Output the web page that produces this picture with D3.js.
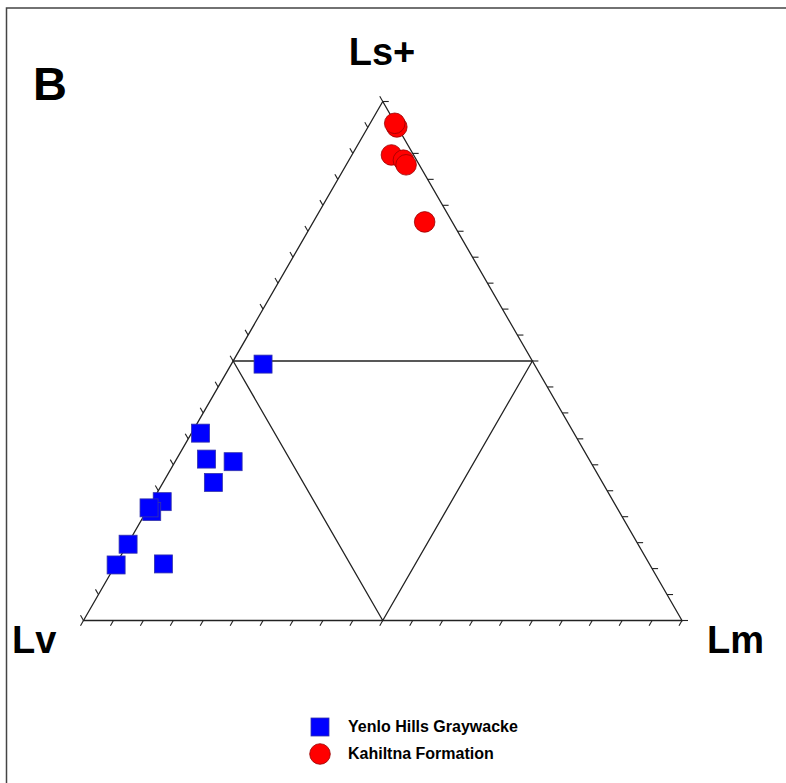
<!DOCTYPE html>
<html>
<head>
<meta charset="utf-8">
<script src="https://cdn.jsdelivr.net/npm/d3@7"></script>
<style>
  body { margin: 0; background: #fff; }
  svg text { font-family: Arial, "Liberation Sans", sans-serif; font-weight: bold; }
</style>
</head>
<body>
<div id="chart"></div>
<script>
// ternary data, percent: Ls+ (top), Lv (left), Lm (right)
var yenloLs = [49.4, 36.1, 31.1, 30.6, 26.6, 22.9, 21.0, 21.7, 14.7, 10.7, 10.9];
var yenloLv = [45.3, 62.4, 63.9, 59.7, 65.0, 75.4, 78.1, 78.2, 85.2, 89.2, 81.2];
var yenloLm = [5.3, 1.5, 5.0, 9.7, 8.4, 1.7, 0.9, 0.1, 0.1, 0.1, 7.9];

var kahilLs = [95.1, 95.8, 89.7, 88.7, 87.8, 76.8];
var kahilLv = [0.1, 0.1, 3.7, 2.2, 2.2, 4.6];
var kahilLm = [4.8, 4.1, 6.6, 9.1, 10.0, 18.6];

var apexLabels = ["Ls+", "Lv", "Lm"];
var seriesNames = ["Yenlo Hills Graywacke", "Kahiltna Formation"];
var tickValues = d3.range(0, 101, 5);

var width = 786, height = 783;

var svg = d3.select("#chart")
  .append("svg")
  .attr("width", width)
  .attr("height", height);

// outer frame (runs off the right and bottom edge)
svg.append("rect")
  .attr("x", 6.5).attr("y", 8)
  .attr("width", 800).attr("height", 800)
  .attr("fill", "none")
  .attr("stroke", "#444")
  .attr("stroke-width", 1.5);

// scales: Ls+ goes up, (Lm + Ls/2) goes right
var x = d3.scaleLinear().domain([0, 100]).range([83.5, 682]);
var y = d3.scaleLinear().domain([0, 100]).range([620.5, 101.5]);

function proj(ls, lm) {
  return [x(lm + ls / 2), y(ls)];
}

var top_ = proj(100, 0), left = proj(0, 0), right = proj(0, 100);

var g = svg.append("g");

// main triangle
g.append("path")
  .attr("d", d3.line()([top_, left, right, top_]) + "Z")
  .attr("fill", "none")
  .attr("stroke", "#222")
  .attr("stroke-width", 1.3);

// inner triangle through midpoints
var mids = [proj(50, 0), proj(50, 50), proj(0, 50)];
g.append("path")
  .attr("d", d3.line()(mids) + "Z")
  .attr("fill", "none")
  .attr("stroke", "#222")
  .attr("stroke-width", 1.3);

// ticks on each side
var tl = 6;
function ticks(pts, dx, dy) {
  g.append("g").selectAll("line")
    .data(pts)
    .enter()
    .append("line")
      .attr("x1", function(d) { return d[0]; })
      .attr("y1", function(d) { return d[1]; })
      .attr("x2", function(d) { return d[0] + dx * tl; })
      .attr("y2", function(d) { return d[1] + dy * tl; })
      .attr("stroke", "#222")
      .attr("stroke-width", 1.1);
}
// bottom (Lv - Lm)
ticks(tickValues.map(function(v) { return proj(0, v); }), -0.5, 0.866);
// right (Lm - Ls+)
ticks(tickValues.map(function(v) { return proj(v, 100 - v); }), 1, 0);
// left (Ls+ - Lv)
ticks(tickValues.map(function(v) { return proj(v, 0); }), -0.5, -0.866);

// Yenlo squares
var yenlo = yenloLs.map(function(d, i) {
  return { ls: d, lv: yenloLv[i], lm: yenloLm[i] };
});
var sq = 18;
g.append("g").selectAll("rect")
  .data(yenlo)
  .enter()
  .append("rect")
    .attr("x", function(d) { return proj(d.ls, d.lm)[0] - sq / 2; })
    .attr("y", function(d) { return proj(d.ls, d.lm)[1] - sq / 2; })
    .attr("width", sq)
    .attr("height", sq)
    .attr("fill", "#0000ff")
    .attr("stroke", "#3333aa")
    .attr("stroke-width", 0.8);

// Kahiltna circles
var kahil = kahilLs.map(function(d, i) {
  return { ls: d, lv: kahilLv[i], lm: kahilLm[i] };
});
g.append("g").selectAll("circle")
  .data(kahil)
  .enter()
  .append("circle")
    .attr("cx", function(d) { return proj(d.ls, d.lm)[0]; })
    .attr("cy", function(d) { return proj(d.ls, d.lm)[1]; })
    .attr("r", 10.3)
    .attr("fill", "#ff0000")
    .attr("stroke", "#990000")
    .attr("stroke-width", 0.8);

// apex labels
svg.append("text").attr("x", 382).attr("y", 65)
  .attr("text-anchor", "middle").attr("font-size", 38)
  .text(apexLabels[0]);
svg.append("text").attr("x", 12).attr("y", 653)
  .attr("font-size", 38)
  .text(apexLabels[1]);
svg.append("text").attr("x", 707).attr("y", 653)
  .attr("font-size", 38)
  .text(apexLabels[2]);

// panel letter
svg.append("text").attr("x", 33).attr("y", 100)
  .attr("font-size", 47)
  .text("B");

// legend
var leg = svg.append("g");
leg.append("rect")
  .attr("x", 311).attr("y", 718)
  .attr("width", 18).attr("height", 18)
  .attr("fill", "#0000ff").attr("stroke", "#3333aa").attr("stroke-width", 0.8);
leg.append("circle")
  .attr("cx", 320).attr("cy", 754).attr("r", 10.3)
  .attr("fill", "#ff0000").attr("stroke", "#990000").attr("stroke-width", 0.8);
leg.append("text").attr("x", 348).attr("y", 732)
  .attr("font-size", 16).text(seriesNames[0]);
leg.append("text").attr("x", 348).attr("y", 759)
  .attr("font-size", 16).text(seriesNames[1]);
</script>
</body>
</html>
